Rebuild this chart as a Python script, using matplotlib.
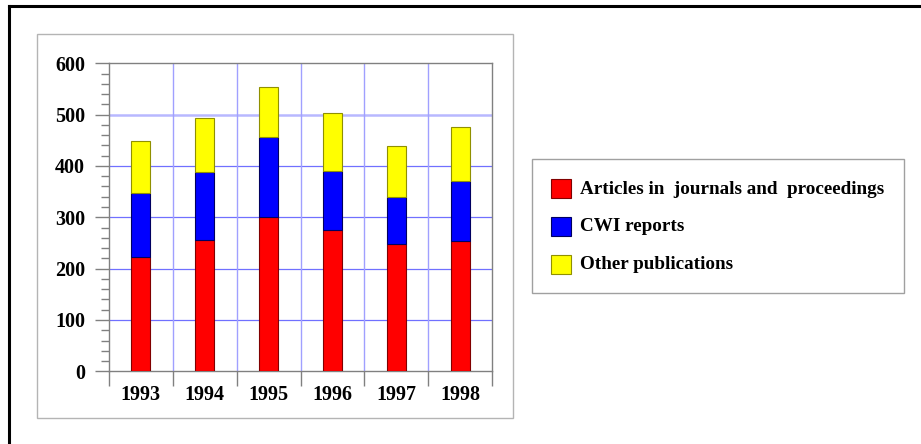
import matplotlib
matplotlib.use("Agg")
import matplotlib.pyplot as plt
from matplotlib.patches import Rectangle
from matplotlib.lines import Line2D
from matplotlib.ticker import MultipleLocator, FixedLocator
import numpy as np

years = ["1993", "1994", "1995", "1996", "1997", "1998"]
articles = [223, 255, 300, 276, 248, 253]
cwi_reports = [125, 134, 156, 115, 92, 117]
other = [100, 105, 97, 112, 99, 106]
series_labels = ["Articles in  journals and  proceedings", "CWI reports", "Other publications"]
series_colors = ["#ff0000", "#0000ff", "#ffff00"]
edge_colors = ["#800000", "#000060", "#909000"]
y_ticks = [0, 100, 200, 300, 400, 500, 600]

W, H = 921, 444
fig = plt.figure(figsize=(W / 100, H / 100), dpi=100)
FONT = "Liberation Serif"

def fx(px):
    return px / W

def fy(py):
    return 1 - py / H

# outer black frame (top and left)
fig.add_artist(Line2D([fx(8.5), 1.0], [fy(6.5), fy(6.5)], color="black", lw=2.2, transform=fig.transFigure))
fig.add_artist(Line2D([fx(8.5), fx(8.5)], [fy(6.5), 0.0], color="black", lw=2.2, transform=fig.transFigure))

# inner gray chart box
fig.add_artist(Rectangle((fx(36.7), fy(418)), fx(512.7 - 36.7), (418 - 34.3) / H,
                         fill=False, edgecolor="#b4b4b4", lw=1.0, transform=fig.transFigure))

# axes
left, right, top, bottom = 108.7, 492.3, 63.3, 371.3
ax = fig.add_axes([fx(left), fy(bottom), fx(right - left), (bottom - top) / H])
x = np.arange(len(years))
stacks = [articles, cwi_reports, other]
base = np.zeros(len(years))
for vals, c, ec in zip(stacks, series_colors, edge_colors):
    ax.bar(x, vals, bottom=base, width=0.3, color=c, edgecolor=ec, linewidth=0.8, zorder=3)
    base = base + np.array(vals)

ax.set_xlim(-0.5, len(years) - 0.5)
ax.set_ylim(0, 600)

# grid
for v in y_ticks[1:-1]:
    ax.axhline(v, color="#7070ff" if v != 500 else "#b8b8ff", lw=0.9 if v != 500 else 1.8, zorder=1)
for b in np.arange(0.5, len(years) - 0.5, 1):
    ax.axvline(b, color="#a0a0ff", lw=1.0, zorder=1)

for s in ax.spines.values():
    s.set_color("#808080")
    s.set_linewidth(1.0)

ax.yaxis.set_major_locator(FixedLocator(y_ticks))
ax.yaxis.set_minor_locator(MultipleLocator(20))
ax.tick_params(axis="y", which="major", direction="out", length=10, width=1, color="#808080", pad=7,
               labelsize=14.5)
ax.tick_params(axis="y", which="minor", direction="out", length=5.5, width=1, color="#808080")
ax.set_xticks(x)
ax.set_xticklabels(years)
ax.xaxis.set_minor_locator(FixedLocator(np.arange(-0.5, len(years), 1)))
ax.tick_params(axis="x", which="major", length=0, pad=10, labelsize=14.5)
ax.tick_params(axis="x", which="minor", direction="out", length=11, width=1, color="#808080")
for lab in ax.get_xticklabels() + ax.get_yticklabels():
    lab.set_fontfamily(FONT)
    lab.set_fontweight("bold")

# legend box
fig.add_artist(Rectangle((fx(531.7), fy(293.3)), fx(904.3 - 531.7), (293.3 - 159.3) / H,
                         fill=False, edgecolor="#a0a0a0", lw=1.0, transform=fig.transFigure))
row_y = [189, 226.7, 264.3]
for lab, c, ec, ry in zip(series_labels, series_colors, edge_colors, row_y):
    fig.add_artist(Rectangle((fx(551), fy(ry + 9.5)), fx(20), 19 / H, facecolor=c, edgecolor=ec,
                             lw=0.8, transform=fig.transFigure))
    fig.text(fx(580), fy(ry), lab, fontfamily=FONT, fontweight="bold", fontsize=13.8,
             va="center", ha="left")

fig.savefig("out.png", dpi=100)
